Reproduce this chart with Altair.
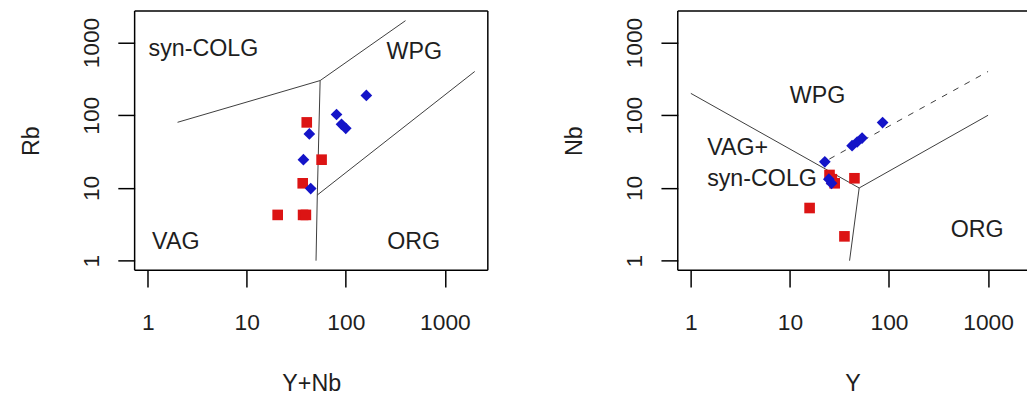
import math
import altair as alt
import pandas as pd

# ---------------- data ----------------
# Left panel: Rb vs Y+Nb
L_RED_X = [40.3, 56.9, 36.7, 20.5, 37.0, 39.5]
L_RED_Y = [79.8, 24.5, 11.6, 4.26, 4.26, 4.26]
L_BLUE_X = [161, 80.5, 90.4, 99.8, 42.8, 37.3, 44.2]
L_BLUE_Y = [187.5, 102.5, 75.0, 66.2, 55.4, 24.5, 9.8]

# Right panel: Nb vs Y
R_RED_X = [15.8, 35.5, 44.8, 25.1, 28.3, 26.5]
R_RED_Y = [5.3, 2.16, 13.6, 15.1, 11.6, 13.2]
R_BLUE_X = [86.2, 42.4, 47.7, 53.5, 22.5, 24.7, 26.3]
R_BLUE_Y = [79.3, 38.2, 42.9, 48.6, 22.9, 13.2, 11.6]

# Field boundaries (Pearce et al. 1984)
L_LINE_ID = ["a", "a", "a", "b", "b", "b", "c", "c"]
L_LINE_X = [2, 55, 400, 55, 51.5, 50, 51.5, 2000]
L_LINE_Y = [80, 300, 2000, 300, 8, 1, 8, 400]

R_LINE_ID = ["d", "d", "e", "e", "f", "f"]
R_LINE_X = [1, 50, 50, 40, 50, 1000]
R_LINE_Y = [200, 10, 10, 1, 10, 100]
R_DASH_X = [25, 1000]
R_DASH_Y = [25, 400]

# Field labels
L_TEXT = ["syn-COLG", "WPG", "VAG", "ORG"]
L_TEXT_X = [3.65, 491, 1.92, 484]
L_TEXT_Y = [656, 591, 1.44, 1.44]
R_TEXT_C = ["WPG", "ORG"]
R_TEXT_C_X = [19.0, 777]
R_TEXT_C_Y = [145.6, 2.12]
R_TEXT_L = ["VAG+", "syn-COLG"]
R_TEXT_L_X = [1.46, 1.46]
R_TEXT_L_Y = [28.8, 10.7]

TICKS = [1, 10, 100, 1000]
LIM = [1, 2000]

# ---------------- styling / layout ----------------
FONT = "Liberation Sans"
TXT = "#1e1e1e"
LINE_COL = "#3c3c3c"
RED = "#dc1414"
BLUE = "#1414c8"

W_L, W_R, H = 357, 353, 262

span = math.log10(LIM[1]) - math.log10(LIM[0])
LO = 10 ** (math.log10(LIM[0]) - 0.04 * span)
HI = 10 ** (math.log10(LIM[1]) + 0.04 * span)
px_per_dec = W_L / (math.log10(HI) - math.log10(LO))
HI_R = 10 ** (math.log10(LO) + W_R / px_per_dec)


def xenc(xhi, title, width):
    return alt.X(
        "x:Q",
        scale=alt.Scale(type="log", domain=[LO, xhi], nice=False),
        axis=alt.Axis(
            values=TICKS, format="d", title=title, grid=False, domain=False,
            tickSize=17, tickWidth=1.5, tickColor="black",
            labelFont=FONT, labelFontSize=23, labelColor=TXT,
            labelPadding=43, labelBaseline="alphabetic", labelAngle=0,
            labelFlush=False, labelOverlap=False,
            titleFont=FONT, titleFontSize=23.5, titleFontWeight="normal",
            titleColor=TXT, titleBaseline="alphabetic", titleAlign="center",
            titleX=width / 2, titleY=122,
        ),
    )


def yenc(title):
    return alt.Y(
        "y:Q",
        scale=alt.Scale(type="log", domain=[LO, HI], nice=False),
        axis=alt.Axis(
            values=TICKS, format="d", title=title, grid=False, domain=False,
            tickSize=17, tickWidth=1.5, tickColor="black",
            labelFont=FONT, labelFontSize=23, labelColor=TXT,
            labelPadding=20, labelAngle=270, labelAlign="center",
            labelBaseline="alphabetic", labelFlush=False, labelOverlap=False,
            titleFont=FONT, titleFontSize=23.5, titleFontWeight="normal",
            titleColor=TXT, titleAngle=270, titleAlign="center",
            titleBaseline="alphabetic", titleX=-97, titleY=131,
        ),
    )


def box(width, right_edge=True):
    one = alt.Chart(pd.DataFrame({"k": [0]}))
    parts = [
        one.mark_rule(color="black", strokeWidth=1.5).encode(
            x=alt.value(0), x2=alt.value(width), y=alt.value(0)),
        one.mark_rule(color="black", strokeWidth=1.5).encode(
            x=alt.value(0), x2=alt.value(width), y=alt.value(H)),
        one.mark_rule(color="black", strokeWidth=1.5).encode(
            x=alt.value(0), y=alt.value(0), y2=alt.value(H)),
    ]
    if right_edge:
        parts.append(one.mark_rule(color="black", strokeWidth=1.5).encode(
            x=alt.value(width), y=alt.value(0), y2=alt.value(H)))
    return parts


def panel(width, xhi, xtitle, ytitle, line_df, dash_df, red_df, blue_df,
          textc_df, textl_df, right_edge):
    X = xenc(xhi, xtitle, width)
    Y = yenc(ytitle)
    layers = []
    layers.append(alt.Chart(line_df).mark_line(color=LINE_COL, strokeWidth=1).encode(
        x=X, y=Y, detail="id:N", order="o:Q"))
    if dash_df is not None:
        layers.append(alt.Chart(dash_df).mark_line(
            color=LINE_COL, strokeWidth=1, strokeDash=[6, 7]).encode(x=X, y=Y))
    layers.append(alt.Chart(red_df).mark_point(
        shape="square", filled=True, size=115, color=RED, opacity=1).encode(x=X, y=Y))
    layers.append(alt.Chart(blue_df).mark_point(
        shape="diamond", filled=True, size=140, color=BLUE, opacity=1).encode(x=X, y=Y))
    layers.append(alt.Chart(textc_df).mark_text(
        font=FONT, fontSize=23.5, color=TXT, align="center",
        baseline="alphabetic").encode(x=X, y=Y, text="t:N"))
    if textl_df is not None:
        layers.append(alt.Chart(textl_df).mark_text(
            font=FONT, fontSize=23.5, color=TXT, align="left",
            baseline="alphabetic").encode(x=X, y=Y, text="t:N"))
    layers.extend(box(width, right_edge))
    return alt.layer(*layers).properties(width=width, height=H)


def lines_df(ids, xs, ys):
    return pd.DataFrame({"id": ids, "x": xs, "y": ys, "o": list(range(len(xs)))})


left = panel(
    W_L, HI, "Y+Nb", "Rb",
    lines_df(L_LINE_ID, L_LINE_X, L_LINE_Y), None,
    pd.DataFrame({"x": L_RED_X, "y": L_RED_Y}),
    pd.DataFrame({"x": L_BLUE_X, "y": L_BLUE_Y}),
    pd.DataFrame({"t": L_TEXT, "x": L_TEXT_X, "y": L_TEXT_Y}),
    None, True,
)

right = panel(
    W_R, HI_R, "Y", "Nb",
    lines_df(R_LINE_ID, R_LINE_X, R_LINE_Y),
    pd.DataFrame({"x": R_DASH_X, "y": R_DASH_Y}),
    pd.DataFrame({"x": R_RED_X, "y": R_RED_Y}),
    pd.DataFrame({"x": R_BLUE_X, "y": R_BLUE_Y}),
    pd.DataFrame({"t": R_TEXT_C, "x": R_TEXT_C_X, "y": R_TEXT_C_Y}),
    pd.DataFrame({"t": R_TEXT_L, "x": R_TEXT_L_X, "y": R_TEXT_L_Y}),
    False,
)

chart = (
    alt.hconcat(left, right, spacing=192, bounds="flush")
    .resolve_scale(x="independent", y="independent")
    .properties(padding={"left": 12, "top": 0, "right": 0, "bottom": 0},
                background="white")
    .configure_view(stroke=None)
)

chart.save("out.html", embed_options={"renderer": "svg", "actions": False})
